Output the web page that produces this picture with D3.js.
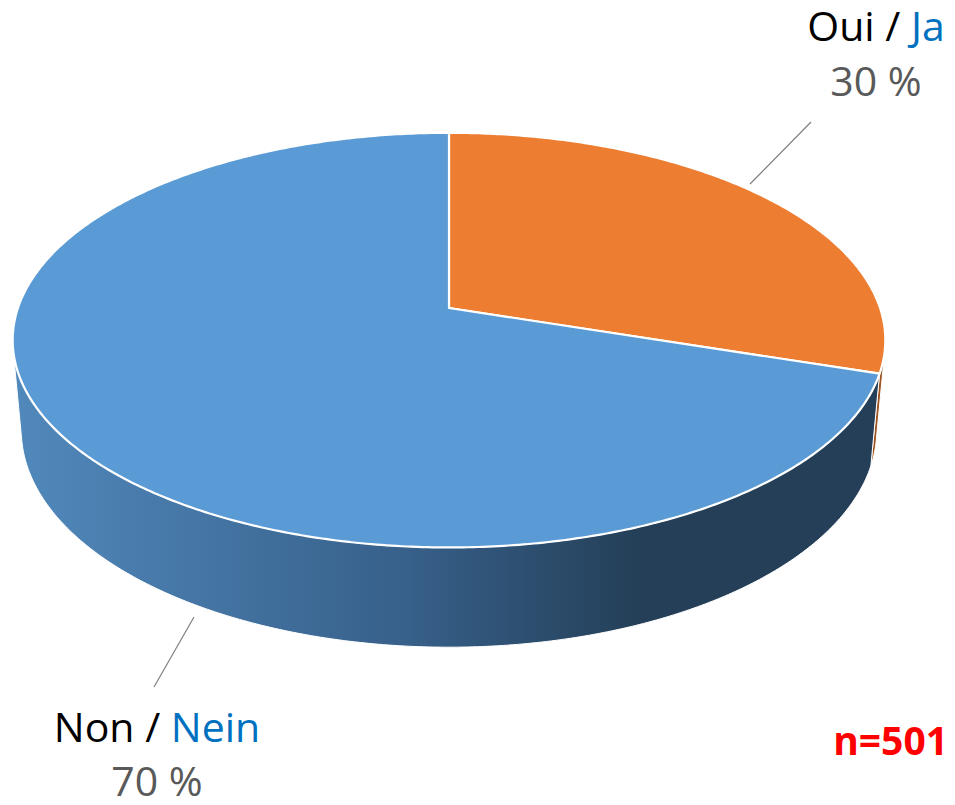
<!DOCTYPE html>
<html>
<head>
<meta charset="utf-8">
<script src="https://cdn.jsdelivr.net/npm/d3@7"></script>
<style>
  body { margin: 0; background: #fff; }
  svg { display: block; }
  text { font-family: "Open Sans", "Liberation Sans", sans-serif; }
</style>
</head>
<body>
<div id="chart"></div>
<script>
// data
const categoriesFr = ["Oui", "Non"];
const categoriesDe = ["Ja", "Nein"];
const shares = [30, 70];
const sampleSize = 501;

const topColors = ["#ED7D31", "#5B9BD5"];
const sideColors = ["#9E5420", "url(#sideBlue)"];

const width = 955, height = 805;

const svg = d3.select("#chart").append("svg")
    .attr("width", width)
    .attr("height", height);

// gradient for the blue side wall
const defs = svg.append("defs");
const grad = defs.append("linearGradient")
    .attr("id", "sideBlue")
    .attr("gradientUnits", "userSpaceOnUse")
    .attr("x1", 13).attr("x2", 885).attr("y1", 0).attr("y2", 0);
grad.append("stop").attr("offset", "0%").attr("stop-color", "#5189bc");
grad.append("stop").attr("offset", "45%").attr("stop-color", "#37608a");
grad.append("stop").attr("offset", "72%").attr("stop-color", "#243f57");
grad.append("stop").attr("offset", "100%").attr("stop-color", "#243f57");

// perspective camera for the 3d disc
const cam = {cx: 449, cy: 308, f: 2457, tilt: 28 * Math.PI / 180, dist: 5.70, depth: 0.239};
const s = Math.sin(cam.tilt), c = Math.cos(cam.tilt);

function project(a, z) {
    let X = Math.sin(a), Y = Math.cos(a);
    let up = Y * s + z * c;
    let d = cam.dist + Y * c - z * s;
    return [cam.cx + cam.f * X / d, cam.cy - cam.f * up / d];
}

function arcPoints(a0, a1, z) {
    let n = Math.max(2, Math.ceil(Math.abs(a1 - a0) / 0.01));
    return d3.range(n + 1).map(i => project(a0 + (a1 - a0) * i / n, z));
}

const pie = d3.pie().sort(null).value(d => d)(shares);

// visible part of the wall (front side of the cylinder)
const wallStart = Math.acos(-1 / (cam.dist * c));
const wallEnd = 2 * Math.PI - wallStart;

const line = d3.line();

// side walls
pie.forEach((p, i) => {
    let lo = Math.max(p.startAngle, wallStart);
    let hi = Math.min(p.endAngle, wallEnd);
    if (hi <= lo) return;
    let pts = arcPoints(lo, hi, 0).concat(arcPoints(hi, lo, -cam.depth));
    svg.append("path")
        .attr("d", line(pts) + "Z")
        .attr("fill", sideColors[i])
        .attr("stroke", "#fff")
        .attr("stroke-width", 1);
});

// top faces
pie.forEach((p, i) => {
    let pts = [[cam.cx, cam.cy]].concat(arcPoints(p.startAngle, p.endAngle, 0));
    svg.append("path")
        .attr("d", line(pts) + "Z")
        .attr("fill", topColors[i])
        .attr("stroke", "#fff")
        .attr("stroke-width", 2.2)
        .attr("stroke-linejoin", "round");
});

// labels
const labels = [
    {x: 876, y1: 41, y2: 96, lead: [[811, 122], [750, 184]]},
    {x: 157, y1: 742, y2: 796, lead: [[194, 617], [154, 687]]}
];

labels.forEach((l, i) => {
    svg.append("line")
        .attr("x1", l.lead[0][0]).attr("y1", l.lead[0][1])
        .attr("x2", l.lead[1][0]).attr("y2", l.lead[1][1])
        .attr("stroke", "#7f7f7f")
        .attr("stroke-width", 1.2);

    let t = svg.append("text")
        .attr("x", l.x).attr("y", l.y1)
        .attr("text-anchor", "middle")
        .attr("font-size", 41);
    t.append("tspan").attr("fill", "#000").text(categoriesFr[i] + " / ");
    t.append("tspan").attr("fill", "#0070C0").text(categoriesDe[i]);

    svg.append("text")
        .attr("x", l.x).attr("y", l.y2)
        .attr("text-anchor", "middle")
        .attr("font-size", 41)
        .attr("fill", "#595959")
        .text(shares[i] + " %");
});

svg.append("text")
    .attr("x", 948).attr("y", 755)
    .attr("text-anchor", "end")
    .attr("font-size", 39)
    .attr("font-weight", "bold")
    .attr("fill", "#FF0000")
    .text("n=" + sampleSize);
</script>
</body>
</html>
